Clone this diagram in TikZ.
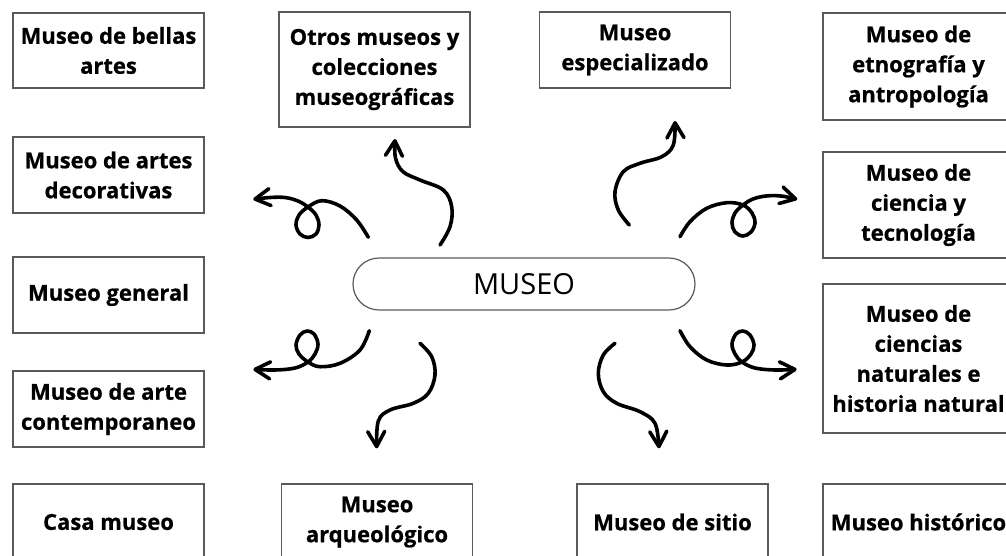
\documentclass[tikz,border=0pt]{standalone}
\usepackage{fontspec}
\setmainfont{Open Sans}[BoldFeatures={FakeBold=0.6}]
\usetikzlibrary{arrows.meta}
\definecolor{boxgray}{HTML}{5A5A5A}
\begin{document}
\begin{tikzpicture}[x=1pt,y=-1pt,
  mbox/.style={draw=boxgray, line width=1.4pt, fill=white, minimum width=191pt, align=center,
    font=\bfseries\fontsize{22}{30}\selectfont, inner sep=0pt},
  squig/.style={line width=3.6pt, line cap=round, line join=round,
    -{Straight Barb[length=15pt,width=17pt,line cap=round,line join=round]}},
  curvy/.style={smooth, tension=0.6}]
\useasboundingbox (0,0) rectangle (1006,555);
\clip (0,0) rectangle (1006,555);
\fill[white] (0,0) rectangle (1006,555);

% boxes
\node[mbox, minimum height=75pt] (bellas) at (108.5,50.5) {Museo de bellas\\artes};
\node[mbox, minimum height=76pt] (decor) at (108.5,175) {Museo de artes\\decorativas};
\node[mbox, minimum height=76pt] (general) at (108.5,295) {Museo general};
\node[mbox, minimum height=76pt] (contemp) at (108.5,409) {Museo de arte\\contemporaneo};
\node[mbox, minimum height=76pt] (casa) at (108.5,522) {Casa museo};
\node[mbox, minimum height=115pt] (otros) at (374.5,69.5) {Otros museos y\\colecciones\\museográficas};
\node[mbox, minimum height=76pt] (espec) at (635,50) {Museo\\especializado};
\node[mbox, minimum height=107pt] (etno) at (918.5,66.5) {Museo de\\etnografía y\\antropología};
\node[mbox, minimum height=106pt] (ciencia) at (918.5,205) {Museo de\\ciencia y\\tecnología};
\node[mbox, minimum height=149pt] (natur) at (918.5,358.5) {Museo de\\ciencias\\naturales e\\historia natural};
\node[mbox, minimum height=76pt] (hist) at (918.5,522) {Museo histórico};
\node[mbox, minimum height=76pt] (arqueo) at (377,522) {Museo\\arqueológico};
\node[mbox, minimum height=76pt] (sitio) at (672.5,522) {Museo de sitio};

% centre
\node[draw=boxgray, line width=1.2pt, rounded corners=26pt, minimum width=342pt, minimum height=52pt,
  font=\fontsize{29}{34}\selectfont, inner sep=0pt] (museo) at (524,284) {MUSEO};

% arrow end points
\coordinate (tA) at (368.3,237.3); \coordinate (hA) at (253.3,199.3);
\coordinate (tB) at (440,245);     \coordinate (hB) at (395,139);
\coordinate (tC) at (629.3,225);   \coordinate (hC) at (675,121);
\coordinate (tD) at (680,236.7);   \coordinate (hD) at (797.3,199.3);
\coordinate (tE) at (369.3,330.7); \coordinate (hE) at (253.3,369.3);
\coordinate (tF) at (420,343.3);   \coordinate (hF) at (376.7,448.3);
\coordinate (tG) at (615,343.3);   \coordinate (hG) at (659,448.3);
\coordinate (tH) at (680,330.7);   \coordinate (hH) at (796.7,369.3);

% upper left loop
\draw[squig] plot[curvy] coordinates {(tA) (356.7,220) (340,206) (321.7,200.7) (308,207) (299,215) (296,225) (300,234) (308,237.5) (316,234) (319,225) (316,215) (308,207) (298,201) (285,197.5) (270,197.5) (hA)};
% to otros
\draw[squig] plot[curvy] coordinates {(tB) (450,226.7) (451.7,206.7) (443.3,190) (420,180) (403,171.7) (395.5,158) (hB)};
% to especializado
\draw[squig] plot[curvy] coordinates {(tC) (618.3,210) (615,191.7) (623.3,171.7) (640,163.3) (661.7,156.7) (673.3,145) (hC)};
% upper right loop
\draw[squig] plot[curvy] coordinates {(tD) (690,221.7) (706.7,208.3) (726.7,202.7) (743,205) (752,213) (755,223) (751,232) (743,236) (735,232) (732,223) (735,213) (743,205) (753,199) (766,196) (781,196) (hD)};
% lower left loop
\draw[squig] plot[curvy] coordinates {(tE) (360,350) (340,363.3) (320,366.7) (308,362) (299,354) (296,345) (300,335) (307,331) (314,334) (318,344) (315,354) (308,362) (295,368) (275,370) (hE)};
% to arqueologico
\draw[squig] plot[curvy] coordinates {(tF) (431.7,356.7) (435,375) (428.3,393.3) (413.3,403.3) (390,410) (378.3,421) (hF)};
% to sitio
\draw[squig] plot[curvy] coordinates {(tG) (603.3,355) (598.3,373.3) (603.3,391.7) (616.7,403.3) (640,411.7) (655,423.3) (hG)};
% lower right loop
\draw[squig] plot[curvy] coordinates {(tH) (690,346.7) (706.7,360) (726.7,365) (742,362) (751,354) (754,345) (750,335) (743,331) (736,334) (732,344) (735,354) (742,362) (755,368) (775,370) (hH)};
\end{tikzpicture}
\end{document}
